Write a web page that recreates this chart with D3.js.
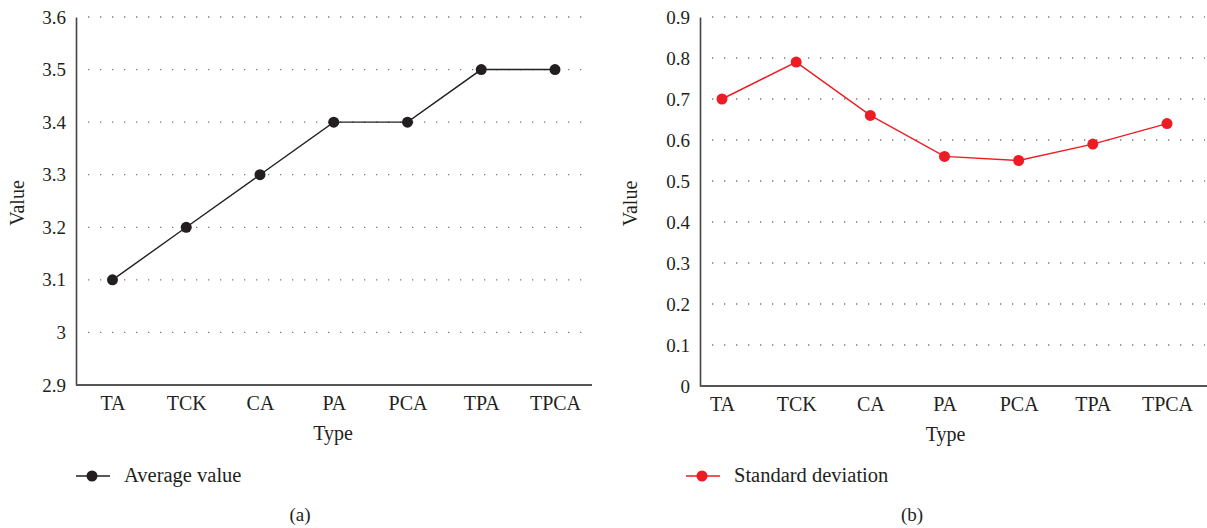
<!DOCTYPE html>
<html>
<head>
<meta charset="utf-8">
<script src="https://cdn.jsdelivr.net/npm/d3@7"></script>
<style>
  body { margin: 0; background: #fff; }
  svg text { font-family: "Liberation Serif", "DejaVu Serif", serif; fill: #231f20; }
</style>
</head>
<body>
<div id="chart"></div>
<script>
const types = ["TA", "TCK", "CA", "PA", "PCA", "TPA", "TPCA"];
const averageValues = [3.1, 3.2, 3.3, 3.4, 3.4, 3.5, 3.5];
const stdValues = [0.70, 0.79, 0.66, 0.56, 0.55, 0.59, 0.64];
const avgTicks = [2.9, 3, 3.1, 3.2, 3.3, 3.4, 3.5, 3.6];
const stdTicks = [0, 0.1, 0.2, 0.3, 0.4, 0.5, 0.6, 0.7, 0.8, 0.9];

const svg = d3.select("#chart").append("svg")
  .attr("width", 1207)
  .attr("height", 528);

function drawPanel(cfg) {
  const g = svg.append("g").attr("transform", `translate(${cfg.left},17)`);
  const height = cfg.height;

  const x = d3.scalePoint().domain(types).range(cfg.pointRange);
  const y = d3.scaleLinear().domain(cfg.domain).range([height, 0]);

  // dotted grid
  g.selectAll("line.grid")
    .data(cfg.ticks.slice(1))
    .enter().append("line")
    .attr("class", "grid")
    .attr("x1", 12).attr("x2", cfg.gridEnd)
    .attr("y1", d => y(d)).attr("y2", d => y(d))
    .attr("stroke", "#777")
    .attr("stroke-width", 1.3)
    .attr("stroke-dasharray", "1.3,10.7");

  // axes
  const yAxis = g.append("g")
    .call(d3.axisLeft(y).tickValues(cfg.ticks).tickSize(0).tickPadding(10)
      .tickFormat(d3.format(cfg.fmt)));
  yAxis.select(".domain").attr("stroke", "#444").attr("stroke-width", 1.6);
  yAxis.selectAll("text").style("font-size", "19px").attr("fill", "#231f20");

  const xAxis = g.append("g")
    .attr("transform", `translate(0,${height})`)
    .call(d3.axisBottom(x).tickSize(0).tickPadding(11));
  xAxis.select(".domain").attr("d", `M0,0H${cfg.axisEnd}`)
    .attr("stroke", "#555").attr("stroke-width", 2);
  xAxis.selectAll("text").style("font-size", "20px").attr("fill", "#231f20");

  // line + points
  const pts = types.map((t, i) => ({ t, v: cfg.values[i] }));
  g.append("path")
    .datum(pts)
    .attr("fill", "none")
    .attr("stroke", cfg.color)
    .attr("stroke-width", cfg.lineWidth)
    .attr("d", d3.line().x(d => x(d.t)).y(d => y(d.v)));

  g.selectAll("circle.pt")
    .data(pts)
    .enter().append("circle")
    .attr("class", "pt")
    .attr("cx", d => x(d.t))
    .attr("cy", d => y(d.v))
    .attr("r", 5.5)
    .attr("fill", cfg.color);

  // axis titles
  g.append("text")
    .attr("transform", `translate(${cfg.valueX},${height / 2 + 2}) rotate(-90)`)
    .attr("text-anchor", "middle")
    .style("font-size", "20px")
    .text("Value");

  g.append("text")
    .attr("x", cfg.axisEnd / 2 + cfg.typeShift)
    .attr("y", height + 55)
    .attr("text-anchor", "middle")
    .style("font-size", "20px")
    .text("Type");

  // legend
  const lg = g.append("g").attr("transform", `translate(${cfg.legendX},${459})`);
  lg.append("line").attr("x1", 0).attr("x2", 34).attr("y1", 0).attr("y2", 0)
    .attr("stroke", cfg.color).attr("stroke-width", cfg.lineWidth);
  lg.append("circle").attr("cx", 16).attr("cy", 0).attr("r", 5.5).attr("fill", cfg.color);
  lg.append("text").attr("x", 48).attr("y", 6)
    .style("font-size", "20.5px").text(cfg.legend);

  g.append("text")
    .attr("x", cfg.captionX)
    .attr("y", 504)
    .attr("text-anchor", "middle")
    .style("font-size", "19px")
    .text(cfg.caption);
}

drawPanel({
  left: 76, height: 368, domain: [2.9, 3.6], ticks: avgTicks, fmt: "",
  values: averageValues, color: "#231f20", lineWidth: 1.4,
  pointRange: [36.5, 479], gridEnd: 506, axisEnd: 516,
  valueX: -52, typeShift: -1, legendX: 0, legend: "Average value",
  captionX: 224, caption: "(a)"
});

drawPanel({
  left: 700, height: 369, domain: [0, 0.9], ticks: stdTicks, fmt: "",
  values: stdValues, color: "#ed1c24", lineWidth: 1.4,
  pointRange: [22, 467], gridEnd: 505, axisEnd: 507,
  valueX: -63, typeShift: -8, legendX: -14, legend: "Standard deviation",
  captionX: 212, caption: "(b)"
});
</script>
</body>
</html>
